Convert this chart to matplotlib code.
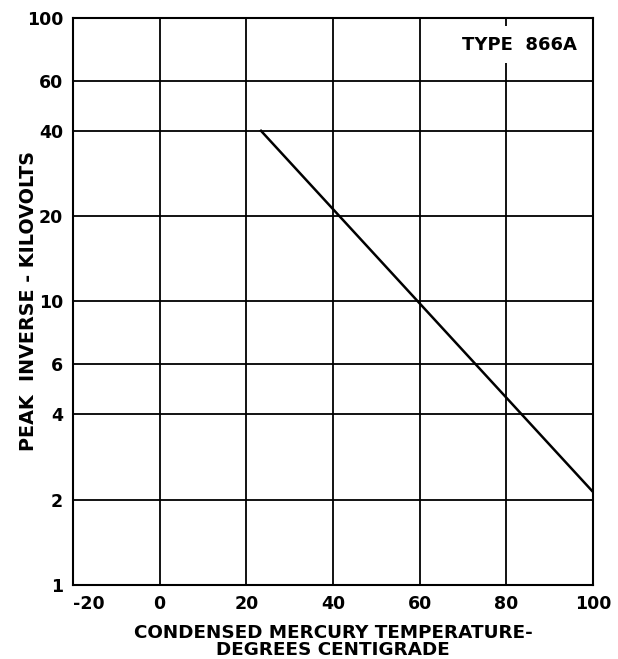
import numpy as np
import matplotlib
matplotlib.use('Agg')
import matplotlib.pyplot as plt
from matplotlib.ticker import FixedLocator, NullLocator

# curve for type 866A: end points
temp_c = [23.4, 100]
peak_kv = [40, 2.13]

x_ticks = [-20, 0, 20, 40, 60, 80, 100]
y_ticks = [1, 2, 4, 6, 10, 20, 40, 60, 100]
y_labels = ['1', '2', '4', '6', '10', '20', '40', '60', '100']

plt.rcParams['font.family'] = ['DejaVu Sans']
plt.rcParams['font.weight'] = 'bold'
plt.rcParams['axes.labelweight'] = 'bold'

fig = plt.figure(figsize=(6.18, 6.59), dpi=100)
ax = fig.add_axes([0.118, 0.1123, 0.8415, 0.8604])

ax.set_yscale('log')
ax.set_xlim(-20, 100)
ax.set_ylim(1, 100)

ax.xaxis.set_major_locator(FixedLocator(x_ticks))
ax.yaxis.set_major_locator(FixedLocator(y_ticks))
ax.yaxis.set_minor_locator(NullLocator())
ax.set_xticklabels([str(v) for v in x_ticks])
ax.set_yticklabels(y_labels)
ax.tick_params(length=0, labelsize=12.5, pad=7)
ax.get_xticklabels()[0].set_ha('left')

ax.grid(True, color='black', linewidth=1.3)
ax.set_axisbelow(True)
for s in ax.spines.values():
    s.set_linewidth(1.5)

ax.plot(temp_c, peak_kv, color='black', linewidth=1.8)

# white box hides the 80 deg gridline behind the label, as in the original
ax.text(0.97, 0.953, 'TYPE  866A', transform=ax.transAxes, ha='right', va='center',
        fontsize=13, bbox=dict(facecolor='white', edgecolor='none', pad=7))

ax.set_xlabel('CONDENSED MERCURY TEMPERATURE-\nDEGREES CENTIGRADE', fontsize=13.2,
              labelpad=8, linespacing=0.95)
ax.set_ylabel('PEAK  INVERSE - KILOVOLTS', fontsize=13.8, va='center')
ax.yaxis.set_label_coords(-0.085, 0.5)

fig.savefig('out.png', dpi=100)
